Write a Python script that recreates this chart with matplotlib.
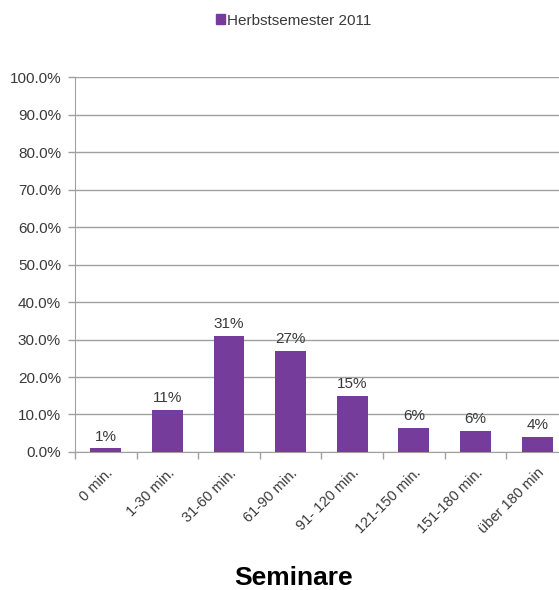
import matplotlib
matplotlib.use("Agg")
import matplotlib.pyplot as plt
from matplotlib.patches import Rectangle

categories = ["0 min.", "1-30 min.", "31-60 min.", "61-90 min.", "91- 120 min.",
              "121-150 min.", "151-180 min.", "über 180 min"]
values = [1.0, 11.2, 31.0, 27.0, 15.0, 6.4, 5.6, 4.1]
series_name = "Herbstsemester 2011"
y_ticks = [0, 10, 20, 30, 40, 50, 60, 70, 80, 90, 100]
title = "Seminare"

bar_color = "#753C9B"
text_color = "#3A3A3A"
grid_color = "#A0A0A0"

plt.rcParams["font.family"] = ["Liberation Sans", "DejaVu Sans"]

fig = plt.figure(figsize=(5.59, 5.90), dpi=100)
ax = fig.add_axes([0.134, 0.234, 0.882, 0.635])

x = list(range(len(categories)))
ax.bar(x, values, width=0.5, color=bar_color, zorder=3)

for xi, v in zip(x, values):
    ax.text(xi, v + 1.2, f"{v:.0f}%", ha="center", va="bottom",
            fontsize=11, color=text_color, zorder=4)

ax.set_xlim(-0.5, len(categories) - 0.5)
ax.set_ylim(0, 100)
ax.set_yticks(y_ticks)
ax.set_yticklabels([f"{t:.1f}%" for t in y_ticks], fontsize=11, color=text_color)
ax.yaxis.grid(True, color=grid_color, linewidth=1.0, zorder=0)

ax.set_xticks(x)
ax.set_xticklabels(categories, rotation=45, ha="right", rotation_mode="anchor",
                   fontsize=10.5, color=text_color)
ax.set_xticks([i - 0.5 for i in range(len(categories) + 1)], minor=True)
ax.tick_params(axis="x", which="major", length=0, pad=10)
ax.tick_params(axis="x", which="minor", length=5, color=grid_color, width=1)
ax.tick_params(axis="y", length=5, color=grid_color, width=1, pad=5)

for side in ("top", "right"):
    ax.spines[side].set_visible(False)
ax.spines["left"].set_color(grid_color)
ax.spines["bottom"].set_color(grid_color)

# legend entry above the plot
handle = Rectangle((0, 0), 1, 1, color=bar_color)
fig.legend([handle], [series_name], loc="center", bbox_to_anchor=(0.525, 0.965),
           frameon=False, fontsize=11, handlelength=0.6, handleheight=0.6,
           handletextpad=0.15, labelcolor=text_color)

fig.text(0.525, 0.0, title, ha="center", va="bottom", fontsize=19,
         fontweight="bold", color="black")

fig.savefig("out.png", dpi=100)
